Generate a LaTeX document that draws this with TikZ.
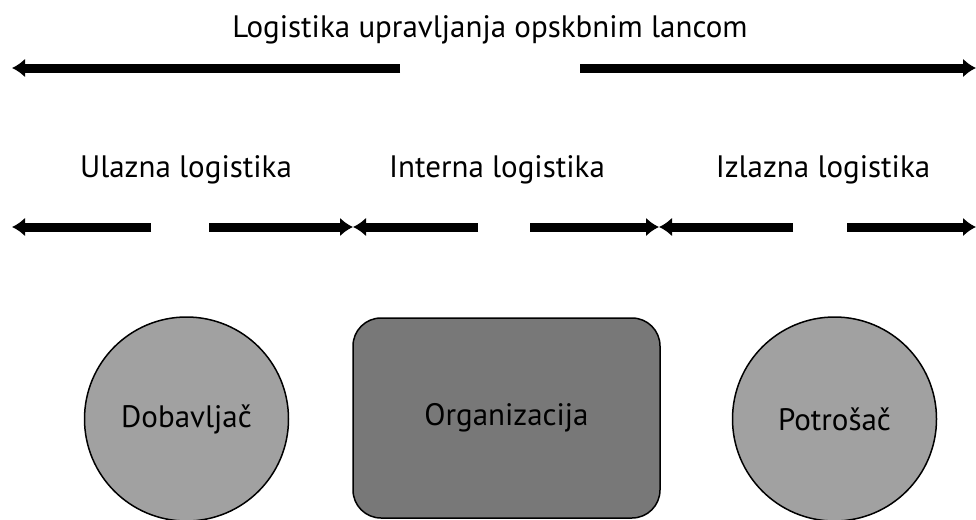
\documentclass[tikz,border=0pt]{standalone}
\usepackage{fontspec}
\setmainfont{PT Sans}
\usetikzlibrary{arrows.meta}
\definecolor{partygray}{gray}{0.63}
\definecolor{orggray}{gray}{0.47}

\begin{document}
\begin{tikzpicture}[x=1pt,y=-1pt,
    flow/.style={line width=9pt,-{Latex[length=13pt,width=19pt]}},
    party/.style={circle,draw,line width=1.5pt,fill=partygray,minimum size=204pt,
      inner sep=0pt,font=\fontsize{31}{36}\selectfont},
    heading/.style={font=\fontsize{31}{36}\selectfont}]
      \useasboundingbox (0,0) rectangle (976,519);
      \node[heading] (title) at (490,30) {Logistika upravljanja opskbnim lancom};
      \coordinate (topL) at (12,68);
      \coordinate (topLs) at (400,68);
      \coordinate (topRs) at (580,68);
      \coordinate (topR) at (976,68);
      \draw[flow] (topLs) -- (topL);
      \draw[flow] (topRs) -- (topR);
      \node[heading] (ulazna) at (186,170) {Ulazna logistika};
      \node[heading] (interna) at (497,170) {Interna logistika};
      \node[heading] (izlazna) at (823,170) {Izlazna logistika};
      \foreach \s/\e [count=\i] in {151/12,209/353,478/353,530/659,793/659,847/976}
      {
      \coordinate (s\i) at (\s,227);
      \coordinate (e\i) at (\e,227);
      \draw[flow] (s\i) -- (e\i);
      }
      \node[party] (dobavljac) at (186.5,419) {Dobavljač};
      \node[draw,line width=1.5pt,fill=orggray,rounded corners=28pt,minimum width=307pt,
        minimum height=200pt,font=\fontsize{31}{36}\selectfont] (org) at (506.5,418) {Organizacija};
      \node[party] (potrosac) at (834.5,419) {Potrošač};
    \end{tikzpicture}
\end{document}
